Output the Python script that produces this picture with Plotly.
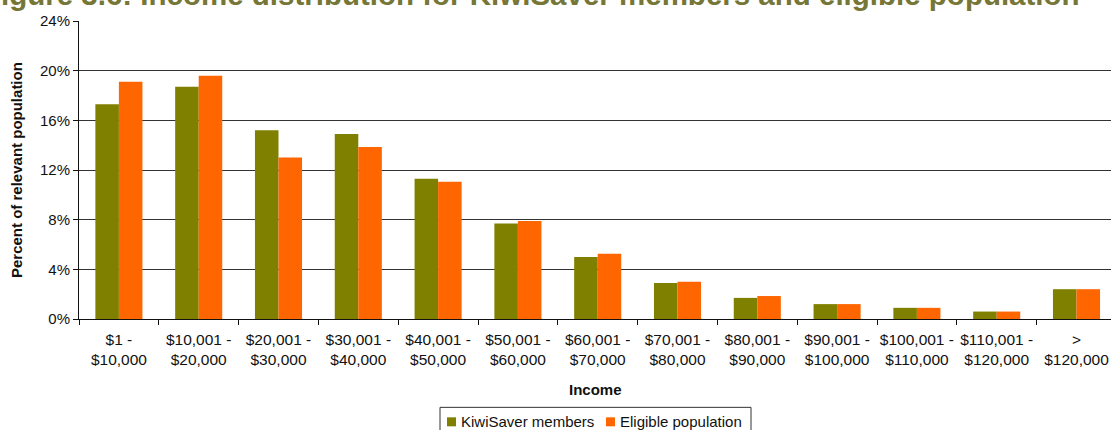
import plotly.graph_objects as go

# Income bands (x categories)
income_bands = [
    "$1 -<br>$10,000", "$10,001 -<br>$20,000", "$20,001 -<br>$30,000",
    "$30,001 -<br>$40,000", "$40,001 -<br>$50,000", "$50,001 -<br>$60,000",
    "$60,001 -<br>$70,000", "$70,001 -<br>$80,000", "$80,001 -<br>$90,000",
    "$90,001 -<br>$100,000", "$100,001 -<br>$110,000", "$110,001 -<br>$120,000",
    "><br>$120,000",
]

# Percent of relevant population
kiwisaver_members = [17.3, 18.7, 15.2, 14.9, 11.3, 7.7, 5.0, 2.9, 1.7, 1.2, 0.9, 0.6, 2.4]
eligible_population = [19.1, 19.6, 13.0, 13.85, 11.05, 7.9, 5.25, 3.0, 1.85, 1.2, 0.9, 0.6, 2.4]

y_ticks = [0, 4, 8, 12, 16, 20, 24]
y_tick_labels = [f"{v}%" for v in y_ticks]

FONT = "Liberation Sans, Arial, sans-serif"
GREEN = "#808000"
ORANGE = "#FF6600"

FIG_W, FIG_H = 1111, 430
# plot area in pixels
L, T, R, B = 79, 21, 1111, 319.5
W, H = R - L, B - T
CAT_W = 79.8  # width of one income band in the source, px
X_END = -0.5 + W / CAT_W  # last band runs slightly past the right edge


def px_x(px):
    return (px - L) / W


def px_y(py):
    return (B - py) / H


fig = go.Figure()
fig.add_trace(go.Bar(x=income_bands, y=kiwisaver_members, name="KiwiSaver members",
                     marker=dict(color=GREEN, line=dict(width=0))))
fig.add_trace(go.Bar(x=income_bands, y=eligible_population, name="Eligible population",
                     marker=dict(color=ORANGE, line=dict(width=0))))

fig.update_layout(
    width=FIG_W, height=FIG_H,
    margin=dict(l=L, r=FIG_W - R, t=T, b=FIG_H - B, autoexpand=False),
    paper_bgcolor="white", plot_bgcolor="white",
    font=dict(family=FONT, size=15, color="#111111"),
    barmode="group", bargap=0.41, bargroupgap=0,
    showlegend=False,
    xaxis=dict(
        range=[-0.5, X_END], tickson="boundaries", ticks="outside", ticklen=5,
        tickcolor="#111111", showline=True, linecolor="#111111", linewidth=1,
        showgrid=False, tickfont=dict(size=15.5), automargin=False,
        tickangle=0, ticklabelstandoff=6,
    ),
    yaxis=dict(
        range=[0, 24], tickvals=y_ticks, ticktext=y_tick_labels, ticks="outside", ticklen=5,
        tickcolor="#111111", showline=True, linecolor="#111111", linewidth=1,
        showgrid=True, gridcolor="#333333", gridwidth=1, zeroline=False,
        tickfont=dict(size=15), automargin=False,
    ),
)

# chart title (cut off at the top edge, as in the source image)
fig.add_annotation(
    text="<b>Figure 3.6: Income distribution for KiwiSaver members and eligible population</b>",
    xref="paper", yref="paper", x=px_x(-19), y=px_y(-5.5), xanchor="left", yanchor="middle",
    showarrow=False, font=dict(family=FONT, size=29.5, color="#767636"),
)

# axis titles
fig.add_annotation(text="<b>Income</b>", xref="paper", yref="paper",
                   x=px_x(595), y=px_y(390), xanchor="center", yanchor="middle",
                   showarrow=False, font=dict(size=15))
fig.add_annotation(text="<b>Percent of relevant population</b>", xref="paper", yref="paper",
                   x=px_x(16), y=0.5, xanchor="center", yanchor="middle", textangle=-90,
                   showarrow=False, font=dict(size=15))

# legend box drawn by hand
fig.add_shape(type="rect", xref="paper", yref="paper",
              x0=px_x(440), x1=px_x(751), y0=px_y(440), y1=px_y(408),
              line=dict(color="#333333", width=1), fillcolor="white")
legend_items = [("KiwiSaver members", GREEN, 447), ("Eligible population", ORANGE, 606)]
for label, color, x0 in legend_items:
    fig.add_shape(type="rect", xref="paper", yref="paper",
                  x0=px_x(x0), x1=px_x(x0 + 9), y0=px_y(427), y1=px_y(418),
                  line=dict(width=0), fillcolor=color)
    fig.add_annotation(text=label, xref="paper", yref="paper",
                       x=px_x(x0 + 12), y=px_y(422), xanchor="left", yanchor="middle",
                       showarrow=False, font=dict(size=15))

# drop the page's default body margin so the figure fills the window exactly
fig.write_html("out.html", config={"displayModeBar": False},
               post_script="document.body.style.margin='0';document.body.style.overflow='hidden';")
